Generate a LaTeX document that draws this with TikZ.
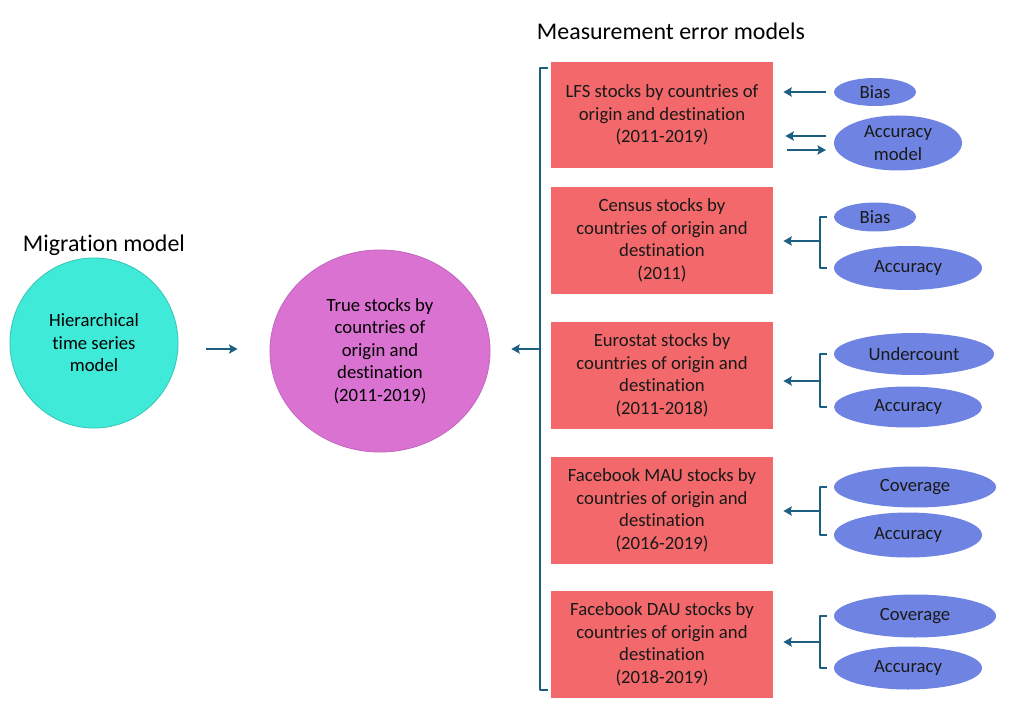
\documentclass[tikz,border=0pt]{standalone}
\usepackage{fontspec}
\setmainfont{Carlito}[Ligatures=CommonOff]
\usetikzlibrary{shapes.geometric,arrows.meta}
\definecolor{turq}{HTML}{40EAD8}
\definecolor{orchidp}{HTML}{DA72D2}
\definecolor{salmonr}{HTML}{F3686A}
\definecolor{cornfl}{HTML}{6F84E2}
\definecolor{linkblue}{HTML}{1C5F80}
\begin{document}
\begin{tikzpicture}[x=0.025cm, y=-0.025cm, font=\fontsize{13.3}{16}\selectfont, line join=round, >={Stealth[length=6pt,width=6.5pt,inset=1pt]},
	box/.style={fill=salmonr, minimum width=5.55cm, minimum height=2.67cm, align=center, inner sep=0pt, text=black!90},
	oval/.style 2 args={ellipse, fill=cornfl, minimum width=#1*0.025cm, minimum height=#2*0.025cm, inner sep=0pt, text=black!90},
	bkt/.style={line width=1.4pt, draw=linkblue},
	link/.style={->, line width=1.4pt, draw=linkblue}]
	\useasboundingbox (0,0) rectangle (1016,720);
	% titles
	\node[anchor=west, font=\fontsize{17}{20}\selectfont] (migtitle) at (18,245) {Migration model};
	\node[anchor=west, font=\fontsize{17}{20}\selectfont] (mettitle) at (532,31) {Measurement error models};
	% migration model
	\node[ellipse, fill=turq, draw=turq!85!black, line width=0.6pt, minimum width=4.2cm, minimum height=4.25cm, align=center, inner sep=0pt] (hier) at (94,343) {Hierarchical\\time series\\model};
	\node[ellipse, fill=orchidp, draw=orchidp!90!black, line width=0.6pt, minimum width=5.5cm, minimum height=5.05cm, align=center, inner sep=0pt] (truth) at (380,351) {True stocks by\\countries of\\origin and\\destination\\(2011-2019)};
	% data sources
	\node[box] (lfs) at (662,115) {LFS stocks by countries of\\origin and destination\\(2011-2019)};
	\node[box] (census) at (662,240.5) {Census stocks by\\countries of origin and\\destination\\(2011)};
	\node[box] (euro) at (662,375.5) {Eurostat stocks by\\countries of origin and\\destination\\(2011-2018)};
	\node[box] (fbmau) at (662,510.5) {Facebook MAU stocks by\\countries of origin and\\destination\\(2016-2019)};
	\node[box] (fbdau) at (662,644.5) {Facebook DAU stocks by\\countries of origin and\\destination\\(2018-2019)};
	% error models
	\node[oval={82}{28}] (lbias) at (875,92) {Bias};
	\node[oval={128}{55}, align=center] (lacc) at (898,143) {Accuracy\\model};
	\node[oval={82}{29}] (cbias) at (875,217) {Bias};
	\node[oval={148}{44}] (cacc) at (908,268) {Accuracy};
	\node[oval={160}{42}] (eunder) at (914,354) {Undercount};
	\node[oval={148}{41}] (eacc) at (908,407) {Accuracy};
	\node[oval={162}{41}] (mcov) at (915,487) {Coverage};
	\node[oval={148}{45}] (macc) at (908,535) {Accuracy};
	\node[oval={162}{43}] (dcov) at (915,616) {Coverage};
	\node[oval={148}{43}] (dacc) at (908,668) {Accuracy};
	% connectors
	\coordinate (mspine) at (540,349);
	\draw[bkt] (548,68) -- (540,68) -- (540,690) -- (548,690);
	\draw[link, shorten >=0.52cm] (mspine) -- (mspine -| truth.east);
	\draw[link, shorten <=0.7cm, shorten >=0.8cm] (hier.east |- mspine) -- (truth.west |- mspine);
	\draw[link, shorten <=0.2cm, shorten >=0.25cm] (lbias.west) -- (lbias.west -| lfs.east);
	\coordinate (lin) at (826,136); \coordinate (lout) at (826,150);
	\draw[link, shorten >=0.3cm] (lin) -- (lin -| lfs.east);
	\draw[link, shorten <=0.35cm] (lout -| lfs.east) -- (lout);
	\foreach \up/\lo/\src/\sy in {cbias/cacc/census/241, eunder/eacc/euro/381, mcov/macc/fbmau/511, dcov/dacc/fbdau/642}{
		\coordinate (\src spine) at (820,\sy);
		\draw[bkt] ([xshift=-0.175cm]\up.west) -| (\src spine) |- ([xshift=-0.175cm]\lo.west);
		\draw[link, shorten >=0.25cm] (\src spine) -- (\src spine -| \src.east);
	}
\end{tikzpicture}
\end{document}
